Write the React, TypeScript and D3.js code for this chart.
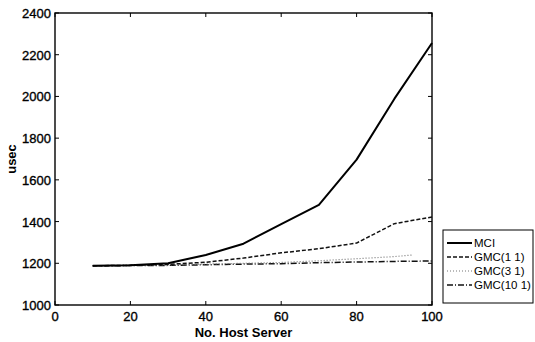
import * as d3 from 'd3';
import React, { useEffect, useRef } from 'react';

// number of host servers (x)
const hosts = [10, 20, 30, 40, 50, 60, 70, 80, 90, 100];
const mci = [1188, 1190, 1200, 1240, 1294, 1388, 1480, 1697, 1988, 2256];
const gmc11 = [1188, 1190, 1195, 1205, 1225, 1250, 1270, 1297, 1390, 1422];
const hostsGmc31 = [10, 20, 30, 40, 50, 60, 70, 80, 90, 95];
const gmc31 = [1188, 1190, 1192, 1196, 1200, 1204, 1212, 1222, 1232, 1240];
const gmc101 = [1188, 1189, 1190, 1193, 1196, 1198, 1203, 1206, 1209, 1211];

const xTicks = [0, 20, 40, 60, 80, 100];
const yTicks = [1000, 1200, 1400, 1600, 1800, 2000, 2200, 2400];

const seriesNames = ['MCI', 'GMC(1 1)', 'GMC(3 1)', 'GMC(10 1)'];

const App = () => {
  const ref = useRef<SVGSVGElement | null>(null);

  useEffect(() => {
    const svg = d3.select(ref.current);
    svg.selectAll('*').remove();

    const margin = { top: 13, left: 55, right: 432, bottom: 305 };
    const font = '"Liberation Sans", Arial, sans-serif';

    const x = d3.scaleLinear().domain([0, 100]).range([margin.left, margin.right]);
    const y = d3.scaleLinear().domain([1000, 2400]).range([margin.bottom, margin.top]);

    svg.append('rect')
      .attr('width', 535).attr('height', 342).attr('fill', '#fff');

    // frame
    svg.append('rect')
      .attr('x', x(0)).attr('y', y(2400))
      .attr('width', x(100) - x(0)).attr('height', y(1000) - y(2400))
      .attr('fill', 'none').attr('stroke', '#000').attr('stroke-width', 1.4);

    const tickLen = 4;
    // ticks on all four sides, pointing in
    xTicks.forEach(t => {
      svg.append('line').attr('x1', x(t)).attr('x2', x(t))
        .attr('y1', y(1000)).attr('y2', y(1000) - tickLen).attr('stroke', '#000');
      svg.append('line').attr('x1', x(t)).attr('x2', x(t))
        .attr('y1', y(2400)).attr('y2', y(2400) + tickLen).attr('stroke', '#000');
      svg.append('text')
        .attr('x', x(t)).attr('y', y(1000) + 16)
        .attr('text-anchor', 'middle')
        .style('font-family', font).style('font-size', '13px')
        .style('stroke', '#000').style('stroke-width', 0.35)
        .text(t);
    });
    yTicks.forEach(t => {
      svg.append('line').attr('x1', x(0)).attr('x2', x(0) + tickLen)
        .attr('y1', y(t)).attr('y2', y(t)).attr('stroke', '#000');
      svg.append('line').attr('x1', x(100)).attr('x2', x(100) - tickLen)
        .attr('y1', y(t)).attr('y2', y(t)).attr('stroke', '#000');
      svg.append('text')
        .attr('x', x(0) - 4).attr('y', y(t) + 5)
        .attr('text-anchor', 'end')
        .style('font-family', font).style('font-size', '13px')
        .style('stroke', '#000').style('stroke-width', 0.35)
        .text(t);
    });

    // axis labels
    svg.append('text')
      .attr('x', (x(0) + x(100)) / 2).attr('y', 337)
      .attr('text-anchor', 'middle')
      .style('font-family', font).style('font-size', '13px').style('font-weight', 'bold')
      .text('No. Host Server');
    svg.append('text')
      .attr('transform', `translate(16,${(y(1000) + y(2400)) / 2}) rotate(-90)`)
      .attr('text-anchor', 'middle')
      .style('font-family', font).style('font-size', '13px').style('font-weight', 'bold')
      .text('usec');

    const styles = [
      { dash: null, width: 2, color: '#000' },
      { dash: '4,2', width: 1.5, color: '#111' },
      { dash: '1,2', width: 1.2, color: '#777' },
      { dash: '6,2,1,2', width: 1.5, color: '#111' },
    ];
    const data = [
      hosts.map((h, i) => [h, mci[i]]),
      hosts.map((h, i) => [h, gmc11[i]]),
      hostsGmc31.map((h, i) => [h, gmc31[i]]),
      hosts.map((h, i) => [h, gmc101[i]]),
    ];

    const line = d3.line<number[]>().x(d => x(d[0])).y(d => y(d[1]));

    // draw flat ones first so MCI sits on top
    [3, 2, 1, 0].forEach(i => {
      svg.append('path')
        .attr('d', line(data[i] as any))
        .attr('fill', 'none')
        .attr('stroke', styles[i].color)
        .attr('stroke-width', styles[i].width)
        .attr('stroke-dasharray', styles[i].dash)
        .attr('stroke-linejoin', 'round');
    });

    // legend
    const lg = svg.append('g');
    lg.append('rect')
      .attr('x', 443).attr('y', 230).attr('width', 90).attr('height', 73)
      .attr('fill', '#fff').attr('stroke', '#000').attr('stroke-width', 1);
    seriesNames.forEach((name, i) => {
      const ly = 243 + i * 14;
      lg.append('line')
        .attr('x1', 447).attr('x2', 472).attr('y1', ly).attr('y2', ly)
        .attr('stroke', styles[i].color)
        .attr('stroke-width', styles[i].width)
        .attr('stroke-dasharray', styles[i].dash);
      lg.append('text')
        .attr('x', 474).attr('y', ly + 4)
        .style('font-family', font).style('font-size', '11.5px')
        .text(name);
    });
  }, []);

  return (
    <svg ref={ref} width={535} height={342}
      style={{ position: 'absolute', left: 0, top: 0, display: 'block' }} />
  );
};

export default App;
